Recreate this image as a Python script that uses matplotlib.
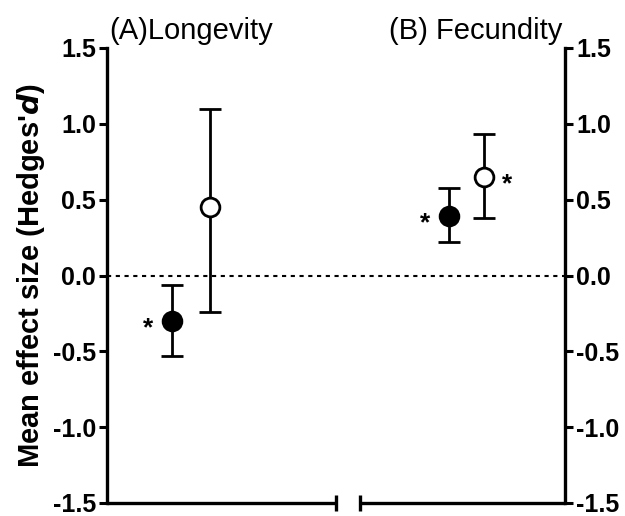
import matplotlib
matplotlib.use("Agg")
import matplotlib.pyplot as plt

plt.rcParams['font.family'] = ['Liberation Sans', 'DejaVu Sans']

# effect sizes (Hedges' d) with 95% CI
groups = ['Longevity', 'Longevity', 'Fecundity', 'Fecundity']
means = [-0.30, 0.45, 0.39, 0.65]
ci_low = [-0.53, -0.24, 0.22, 0.38]
ci_high = [-0.06, 1.10, 0.58, 0.93]
filled = [True, False, True, False]
significant = [True, False, True, True]
star_side = [-1, 0, -1, 1]
xpos = [1.42, 2.25, 7.47, 8.23]
yticks = [-1.5, -1.0, -0.5, 0.0, 0.5, 1.0, 1.5]

fig = plt.figure(figsize=(6.25, 5.16), dpi=100)
ax = fig.add_axes([107 / 625, 13 / 516, 458 / 625, 455 / 516])

ax.axhline(0, color='black', lw=1.5, ls=(0, (2, 2.2)), zorder=1)

for x, m, lo, hi, f, s, side in zip(xpos, means, ci_low, ci_high, filled,
                                    significant, star_side):
    ax.errorbar(x, m, yerr=[[m - lo], [hi - m]], fmt='o', ms=13.5,
                mfc='black' if f else 'white', mec='black', mew=2,
                ecolor='black', elinewidth=2, capsize=8, capthick=2, zorder=3)
    if s:
        ax.annotate('*', (x, m), xytext=(side * 17, -5), textcoords='offset points',
                    ha='center', va='center', fontsize=19, fontweight='bold')

ax.set_xlim(0, 10)
ax.set_ylim(-1.5, 1.5)
ax.set_yticks(yticks)
ax.set_yticklabels([f'{t:.1f}' for t in yticks])
ax.set_xticks([])

for side in ['top', 'bottom']:
    ax.spines[side].set_visible(False)
for side in ['left', 'right']:
    ax.spines[side].set_linewidth(2.4)
ax.tick_params(axis='y', which='both', left=True, right=True, labelleft=True,
               labelright=True, length=6, width=2.2, pad=2, labelsize=18)
for lbl in ax.get_yticklabels():
    lbl.set_fontweight('bold')

# broken x axis: two segments with end marks at the gap
brk_lo, brk_hi = 5.0, 5.52
ax.plot([0, brk_lo], [-1.5, -1.5], color='black', lw=2.4, clip_on=False,
        solid_capstyle='butt')
ax.plot([brk_hi, 10], [-1.5, -1.5], color='black', lw=2.4, clip_on=False,
        solid_capstyle='butt')
ax.plot([brk_lo, brk_hi], [-1.5, -1.5], ls='none', marker='|', ms=12, mew=2.4,
        color='black', clip_on=False)

ax.set_ylabel("Mean effect size (Hedges'$\\mathbfit{d}$)", fontsize=21,
              fontweight='bold', labelpad=4)

ax.text(1.84, 1.56, '(A)Longevity', ha='center', va='baseline', fontsize=21)
ax.text(8.06, 1.56, '(B) Fecundity', ha='center', va='baseline', fontsize=21)

fig.savefig('out.png', dpi=100)
